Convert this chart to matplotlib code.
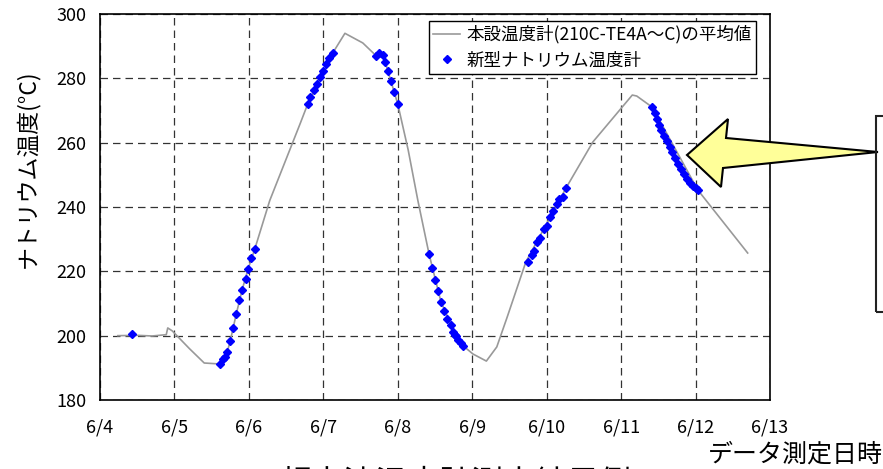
import matplotlib
matplotlib.use("Agg")
import matplotlib.pyplot as plt
from matplotlib.patches import Polygon, Rectangle

plt.rcParams['font.family'] = ['Noto Sans CJK JP', 'DejaVu Sans']

# days since 6/4 00:00
line_days = [0.24, 0.50, 0.70, 0.89, 0.91, 0.97, 1.20, 1.40, 1.61, 1.65, 1.71,
             1.75, 1.83, 1.91, 1.99, 2.08, 2.28, 2.69, 2.79, 3.13, 3.29, 3.53,
             3.71, 3.80, 4.00, 4.14, 4.27, 4.42, 4.58, 4.72, 4.88, 5.01, 5.19,
             5.33, 5.47, 5.72, 6.26, 6.62, 7.15, 7.21, 7.42, 8.03, 8.70]
line_temp = [200.0, 200.1, 199.9, 200.3, 202.4, 201.5, 196.0, 191.5, 191.2, 192.7, 195.0,
             198.4, 206.7, 214.3, 220.8, 227.0, 242.0, 266.0, 272.0, 288.0, 294.0, 291.0,
             287.0, 287.5, 272.0, 257.7, 242.0, 225.4, 210.5, 203.3, 196.8, 194.3, 192.1,
             196.5, 205.8, 222.9, 245.9, 260.2, 274.8, 274.5, 271.0, 245.3, 225.7]

sensor_days = [0.43,
               1.61, 1.65, 1.68, 1.71, 1.75, 1.79, 1.83, 1.87, 1.91, 1.96, 1.99, 2.03, 2.08,
               2.79, 2.82, 2.87, 2.92, 2.96, 3.00, 3.04, 3.08, 3.13,
               3.71, 3.75, 3.80, 3.83, 3.87, 3.91, 3.95, 4.00,
               4.42, 4.46, 4.50, 4.54, 4.58, 4.62, 4.66, 4.72, 4.74, 4.77, 4.78, 4.81, 4.85, 4.88,
               5.75, 5.80, 5.83, 5.87, 5.91, 5.96, 6.00, 6.05, 6.09, 6.14, 6.17, 6.22, 6.26,
               7.42, 7.45, 7.48, 7.51, 7.54, 7.58, 7.61, 7.65, 7.68, 7.72, 7.76, 7.80, 7.84,
               7.88, 7.92, 7.96, 8.00, 8.03]
sensor_temp = [200.5,
               191.2, 192.7, 193.5, 195.0, 198.4, 202.4, 206.7, 211.0, 214.3, 217.6, 220.8, 224.0, 227.0,
               272.0, 274.2, 276.4, 278.2, 280.4, 282.3, 284.4, 286.3, 288.0,
               287.0, 288.0, 287.2, 285.0, 282.3, 279.2, 275.7, 272.0,
               225.4, 221.0, 217.3, 213.9, 210.5, 207.7, 205.2, 203.3, 201.2, 200.3, 200.0, 198.7, 197.7, 196.8,
               223.0, 225.0, 226.3, 229.1, 230.3, 233.2, 234.0, 237.0, 238.7, 241.0, 242.5, 243.2, 245.9,
               271.0, 269.3, 267.4, 265.6, 264.0, 262.1, 260.4, 258.7, 257.0, 255.3, 253.5, 251.9, 250.3,
               248.6, 247.5, 246.6, 245.8, 245.3]

date_labels = ['6/4', '6/5', '6/6', '6/7', '6/8', '6/9', '6/10', '6/11', '6/12', '6/13']
y_ticks = [180, 200, 220, 240, 260, 280, 300]

W, H = 883, 469
fig = plt.figure(figsize=(W / 100, H / 100), dpi=100)
ax = fig.add_axes([100 / W, 1 - 400 / H, 670 / W, 386 / H])


def px(x, y):
    return (x / W, 1 - y / H)


ax.plot(line_days, line_temp, color='#999999', lw=1.2,
        label='本設温度計(210C-TE4A～C)の平均値', zorder=3)
ax.plot(sensor_days, sensor_temp, linestyle='none', marker='D', ms=4.5,
        color='#0000FF', mec='#0000FF', label='新型ナトリウム温度計', zorder=4)

ax.set_xlim(0, 9)
ax.set_ylim(180, 300)
ax.set_xticks(range(len(date_labels)))
ax.set_xticklabels(date_labels)
ax.set_yticks(y_ticks)
ax.tick_params(length=0, labelsize=13)
ax.tick_params(axis='x', pad=13)
ax.tick_params(axis='y', pad=10)
ax.grid(True, color='#333333', lw=0.9, linestyle=(0, (6, 4)))
for s in ax.spines.values():
    s.set_color('black')
    s.set_linewidth(1.2)

leg = ax.legend(loc='upper left', bbox_to_anchor=px(429, 21),
                bbox_transform=fig.transFigure, borderaxespad=0,
                fancybox=False, framealpha=1, edgecolor='black',
                fontsize=12.6, handlelength=1.5, handletextpad=0.4,
                labelspacing=0.42, borderpad=0.25)
leg.get_frame().set_linewidth(1.0)

fig.text(*px(27, 169), 'ナトリウム温度(°C)', rotation=90, fontsize=16.5,
         ha='center', va='center')
fig.text(*px(883, 455), 'データ測定日時', fontsize=18, ha='right', va='center')
fig.text(*px(455, 468), '超音波温度計測定結果例', fontsize=23, ha='center', va='top')

arrow_pts = [px(687, 155), px(728, 119), px(726, 138), px(878, 152),
             px(723, 168), px(721, 187)]
fig.patches.append(Polygon(arrow_pts, closed=True, facecolor='#FFFF99',
                           edgecolor='black', lw=1.5,
                           transform=fig.transFigure, zorder=5))
x0, y0 = px(876, 312)
x1, y1 = px(900, 116)
fig.patches.append(Rectangle((x0, y0), x1 - x0, y1 - y0, facecolor='none',
                             edgecolor='#222222', lw=1.5,
                             transform=fig.transFigure, zorder=5))

fig.savefig('out.png', dpi=100)
